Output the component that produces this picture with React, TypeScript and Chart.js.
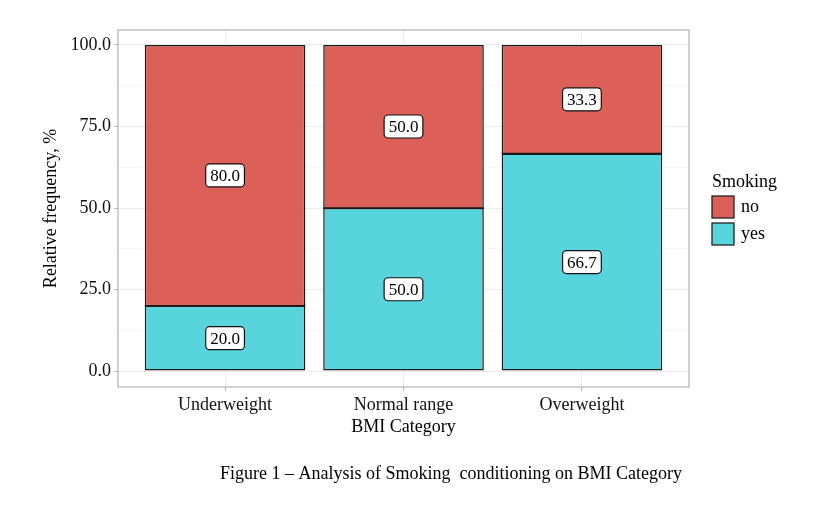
import React, { useEffect, useRef } from "react";
import { Chart, registerables } from "chart.js";

Chart.register(...registerables);

const categories = ["Underweight", "Normal range", "Overweight"];
const yesValues = [20.0, 50.0, 66.7];
const noValues = [80.0, 50.0, 33.3];
const seriesNames = ["no", "yes"];
const yTicks = [0, 12.5, 25, 37.5, 50, 62.5, 75, 87.5, 100];

const COLOR_NO = "#DC5F58";
const COLOR_YES = "#57D4DC";
const FONT = "'Liberation Serif', 'Times New Roman', serif";

const overlayPlugin = {
  id: "overlay",
  afterDatasetsDraw(chart: any) {
    // crisp divider between stacked segments
    const ctx = chart.ctx;
    const meta = chart.getDatasetMeta(1);
    ctx.save();
    ctx.strokeStyle = "#1a1a1a";
    ctx.lineWidth = 1.5;
    meta.data.forEach((el: any) => {
      const half = el.width / 2;
      ctx.beginPath();
      ctx.moveTo(el.x - half, el.base);
      ctx.lineTo(el.x + half, el.base);
      ctx.stroke();
    });
    ctx.restore();
  },
  afterDraw(chart: any) {
    const ctx = chart.ctx;
    const area = chart.chartArea;
    ctx.save();
    // panel border
    ctx.strokeStyle = "#b8b8b8";
    ctx.lineWidth = 1.3;
    ctx.strokeRect(area.left, area.top, area.right - area.left, area.bottom - area.top);

    // value labels
    ctx.font = `17px ${FONT}`;
    ctx.textAlign = "center";
    ctx.textBaseline = "middle";
    chart.data.datasets.forEach((ds: any, di: number) => {
      const meta = chart.getDatasetMeta(di);
      meta.data.forEach((el: any, i: number) => {
        const v = ds.data[i].y;
        const txt = v.toFixed(1);
        const cx = el.x;
        const cy = (el.y + el.base) / 2;
        const w = ctx.measureText(txt).width + 9;
        const h = 23;
        ctx.beginPath();
        ctx.roundRect(cx - w / 2, cy - h / 2, w, h, 4);
        ctx.fillStyle = "#ffffff";
        ctx.fill();
        ctx.strokeStyle = "#111";
        ctx.lineWidth = 1.2;
        ctx.stroke();
        ctx.fillStyle = "#000";
        ctx.fillText(txt, cx, cy + 1);
      });
    });

    // axis titles
    ctx.fillStyle = "#000";
    ctx.font = `18px ${FONT}`;
    ctx.textAlign = "center";
    ctx.textBaseline = "middle";
    ctx.fillText("BMI Category", (area.left + area.right) / 2, 427);
    ctx.save();
    ctx.translate(51, (area.top + area.bottom) / 2);
    ctx.rotate(-Math.PI / 2);
    ctx.fillText("Relative frequency, %", 0, 0);
    ctx.restore();

    // legend
    const lx = 712;
    ctx.textAlign = "left";
    ctx.fillText("Smoking", lx, 182);
    const colors = [COLOR_NO, COLOR_YES];
    seriesNames.forEach((name, i) => {
      const y = 196 + i * 27;
      ctx.fillStyle = colors[i];
      ctx.fillRect(lx, y, 22, 22);
      ctx.strokeStyle = "#222";
      ctx.lineWidth = 1.3;
      ctx.strokeRect(lx, y, 22, 22);
      ctx.fillStyle = "#000";
      ctx.fillText(name, lx + 29, y + 11);
    });

    // caption
    ctx.font = `18px ${FONT}`;
    ctx.textAlign = "center";
    ctx.fillText("Figure 1 – Analysis of Smoking  conditioning on BMI Category", 451, 474);
    ctx.restore();
  },
};

export default function App() {
  const ref = useRef<HTMLCanvasElement>(null);
  useEffect(() => {
    document.body.style.margin = "0";
    const canvas = ref.current!;
    const chart = new Chart(canvas, {
      type: "bar",
      data: {
        datasets: [
          {
            label: "yes",
            data: yesValues.map((v, i) => ({ x: i + 1, y: v })),
            backgroundColor: COLOR_YES,
            borderColor: "#1a1a1a",
            borderWidth: 1.5,
            borderSkipped: false,
            inflateAmount: 0,
            stack: "s",
          },
          {
            label: "no",
            data: noValues.map((v, i) => ({ x: i + 1, y: v })),
            backgroundColor: COLOR_NO,
            borderColor: "#1a1a1a",
            borderWidth: 1.5,
            borderSkipped: "start",
            inflateAmount: 0,
            stack: "s",
          },
        ],
      },
      options: {
        animation: false,
        responsive: false,
        barPercentage: 0.9,
        categoryPercentage: 1,
        layout: { padding: { top: 30, right: 127, left: 0, bottom: 0 } },
        plugins: { legend: { display: false }, tooltip: { enabled: false } },
        scales: {
          x: {
            type: "linear",
            stacked: true,
            min: 0.4,
            max: 3.6,
            offset: false,
            afterBuildTicks: (scale: any) => {
              scale.ticks = categories.map((_, i) => ({ value: i + 1 }));
            },
            afterFit: (scale: any) => {
              scale.height = 123;
            },
            border: { display: false },
            grid: {
              offset: false,
              color: "#ebebeb",
              lineWidth: 1,
              tickLength: 4,
              tickColor: "#b8b8b8",
            },
            ticks: {
              color: "#111",
              font: { family: FONT, size: 18 },
              padding: 3,
              maxRotation: 0,
              callback: (v: any) => categories[Math.round(v) - 1] ?? "",
            },
          },
          y: {
            type: "linear",
            stacked: true,
            min: -4.9,
            max: 104.6,
            afterBuildTicks: (scale: any) => {
              scale.ticks = yTicks.map((v) => ({ value: v }));
            },
            afterFit: (scale: any) => {
              scale.width = 118;
            },
            border: { display: false },
            grid: {
              color: (c: any) => (c.tick && c.tick.value % 25 === 0 ? "#ebebeb" : "#f6f6f6"),
              lineWidth: 1,
              tickLength: 4,
              tickColor: (c: any) => (c.tick && c.tick.value % 25 === 0 ? "#b8b8b8" : "rgba(0,0,0,0)"),
            },
            ticks: {
              color: "#111",
              font: { family: FONT, size: 18 },
              padding: 3,
              autoSkip: false,
              callback: (v: any) => (Number(v) % 25 === 0 ? Number(v).toFixed(1) : ""),
            },
          },
        },
      },
      plugins: [overlayPlugin],
    });
    return () => chart.destroy();
  }, []);
  return <canvas ref={ref} width={816} height={510} style={{ display: "block", width: 816, height: 510 }} />;
}
